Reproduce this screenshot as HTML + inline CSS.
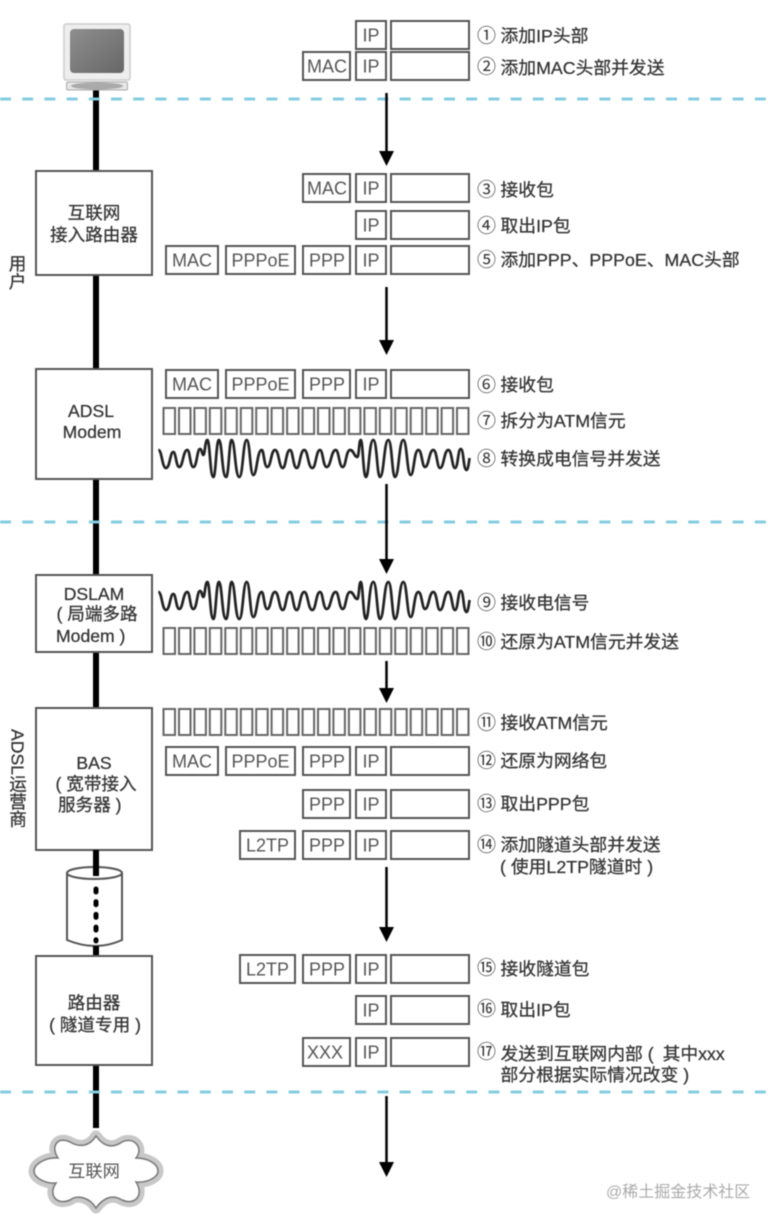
<!DOCTYPE html>
<html lang="zh"><head><meta charset="utf-8"><title>ADSL</title>
<style>
html,body{margin:0;padding:0;background:#fff;width:776px;height:1226px;overflow:hidden}
svg{display:block;filter:blur(.5px)}
text{font-family:"Liberation Sans","Noto Sans CJK SC",sans-serif;fill:#333}
.b{fill:#fff;stroke:#555;stroke-width:2}
.c{fill:#fff;stroke:#666;stroke-width:2}
.h{font-size:18px;text-anchor:middle;fill:#555}
.n{font-size:17.6px;text-anchor:middle;fill:#333;stroke:#333;stroke-width:.25px}
.s{font-size:17.6px;fill:#333;stroke:#333;stroke-width:.25px}
.l{font-size:17.8px;fill:#333;stroke:#333;stroke-width:.25px}
.d{stroke:#84cde0;stroke-width:3;stroke-dasharray:11 11.2}
.a{stroke:#000;stroke-width:2.5;fill:none}
</style></head><body>
<svg width="776" height="1226" viewBox="0 0 776 1226" xmlns="http://www.w3.org/2000/svg">
<defs>
<g id="ip"><rect class="b" x="356" y="0" width="30" height="28"/><text class="h" x="371" y="20.500">IP</text><rect class="b" x="391" y="0" width="78" height="28"/></g>
<g id="mac"><rect class="b" x="303" y="0" width="47" height="28"/><text class="h" x="327" y="20.500">MAC</text></g>
<g id="ppp"><rect class="b" x="303" y="0" width="47" height="28"/><text class="h" x="327" y="20.500">PPP</text></g>
<g id="full"><rect class="b" x="166" y="0" width="52" height="28"/><text class="h" x="192" y="20.500">MAC</text><rect class="b" x="226" y="0" width="69" height="28"/><text class="h" x="260.500" y="20.500">PPPoE</text></g>
<g id="l2"><rect class="b" x="240" y="0" width="55" height="28"/><text class="h" x="267.500" y="20.500">L2TP</text></g>
<g id="cells">
<rect class="c" x="163.5" y="0" width="11.5" height="26"/><rect class="c" x="179" y="0" width="11.5" height="26"/><rect class="c" x="194.4" y="0" width="11.5" height="26"/><rect class="c" x="209.8" y="0" width="11.5" height="26"/><rect class="c" x="225.3" y="0" width="11.5" height="26"/><rect class="c" x="240.8" y="0" width="11.5" height="26"/><rect class="c" x="256.2" y="0" width="11.5" height="26"/><rect class="c" x="271.6" y="0" width="11.5" height="26"/><rect class="c" x="287.1" y="0" width="11.5" height="26"/><rect class="c" x="302.6" y="0" width="11.5" height="26"/><rect class="c" x="318" y="0" width="11.5" height="26"/><rect class="c" x="333.4" y="0" width="11.5" height="26"/><rect class="c" x="348.9" y="0" width="11.5" height="26"/><rect class="c" x="364.4" y="0" width="11.5" height="26"/><rect class="c" x="379.8" y="0" width="11.5" height="26"/><rect class="c" x="395.2" y="0" width="11.5" height="26"/><rect class="c" x="410.7" y="0" width="11.5" height="26"/><rect class="c" x="426.2" y="0" width="11.5" height="26"/><rect class="c" x="441.6" y="0" width="11.5" height="26"/><rect class="c" x="457" y="0" width="11.5" height="26"/>
</g>
<path id="wave" fill="none" stroke="#222" stroke-width="2.7" d="M158.3 450C162 450 162 468 166 468C170 468 170 452 173.3 452C176 452 176 467 179.3 467C183 467 183 450 187.3 450C190 450 190 467 193.3 467C197 467 197 449 200 449C202 449 202 455 203.3 455C205 455 205 440 207.3 440C210 440 210 477 213.3 477C216 477 216 440 219 440C222 440 222 477 226 477C229 477 229 440 231.7 440C235 440 235 477 239.3 477C243 477 243 440 246.7 440C250 440 250 475 253.3 475C257 475 257 450 261.7 450C264 450 264 467 267.3 467C271 467 271 450 275 450C279 450 279 468 282.7 468C286 468 286 450 290 450C293 450 293 468 296.7 468C300 468 300 450 304.3 450C308 450 308 468 312.3 468C316 468 316 450 320 450C323 450 323 467 326.7 467C331 467 331 450 335.7 450C339 450 339 467 342.7 467C346 467 346 450 350 450C354 450 354 457 357.3 457C359 457 359 440 360.7 440C363 440 363 477 366 477C369 477 369 440 373.3 440C377 440 377 477 380 477C384 477 384 440 388.3 440C392 440 392 477 395 477C399 477 399 440 403.3 440C407 440 407 475 410.7 475C414 475 414 450 418.3 450C422 450 422 467 425 467C429 467 429 450 433.3 450C437 450 437 468 440 468C444 468 444 450 448.3 450C452 450 452 468 455 468C458 468 458 449 460.7 449C464 449 463 470 466.7 470C468 470 469 462 469.5 458"/>
<path id="ah" d="M-7.5 0H7.5L0 15Z" fill="#000"/>
<linearGradient id="s" x1="0" y1="0" x2="1" y2="1"><stop offset="0" stop-color="#8e8e8e"/><stop offset=".6" stop-color="#777"/><stop offset="1" stop-color="#666"/></linearGradient>
</defs>

<!-- backbone -->
<rect x="93" y="88" width="6" height="1040" fill="#000"/>

<!-- dashed boundaries -->
<line class="d" x1="0" y1="99" x2="776" y2="99"/>
<line class="d" x1="0" y1="522" x2="776" y2="522"/>
<line class="d" x1="0" y1="1092" x2="776" y2="1092"/>

<!-- monitor -->
<rect x="64" y="24" width="66" height="56" rx="2" fill="#eee" stroke="#ccc" stroke-width="1.5"/>
<rect x="70" y="29" width="54" height="44" rx="4" fill="url(#s)"/>
<rect x="66.5" y="82" width="61" height="8" rx="1.5" fill="#e6e6e6" stroke="#aaa"/>
<ellipse cx="97" cy="86" rx="26" ry="3.5" fill="#aaa"/>

<!-- left nodes -->
<rect class="b" x="36" y="171" width="116" height="104"/>
<text class="n" x="94" y="219">互联网</text><text class="n" x="94" y="241">接入路由器</text>
<rect class="b" x="36" y="369" width="116" height="110"/>
<text class="n" x="91" y="417">ADSL</text><text class="n" x="92" y="438">Modem</text>
<rect class="b" x="36" y="575" width="116" height="77"/>
<text class="n" x="94" y="600">DSLAM</text><text class="s" x="56.500" y="620">( 局端多路</text><text class="s" x="56" y="642">Modem )</text>
<rect class="b" x="36" y="708" width="116" height="142"/>
<text class="n" x="94" y="769">BAS</text><text class="s" x="55.500" y="790">( 宽带接入</text><text class="s" x="58" y="811">服务器 )</text>

<!-- cylinder -->
<path d="M67 873V940Q96 952 122 940V873" fill="#fff" stroke="#555" stroke-width="2"/>
<ellipse cx="94.500" cy="873" rx="27.500" ry="6" fill="#fff" stroke="#555" stroke-width="2"/>
<rect x="93" y="850" width="6" height="26" fill="#000"/>
<line x1="96" y1="889" x2="96" y2="941" stroke="#000" stroke-width="5" stroke-linecap="round" stroke-dasharray="3 9.700"/>
<rect x="93" y="946" width="6" height="10" fill="#000"/>

<rect class="b" x="36" y="956" width="116" height="109"/>
<text class="n" x="94" y="1009">路由器</text><text class="n" x="95" y="1031">( 隧道专用 )</text>

<!-- cloud -->
<path d="M96 1136C103 1146 112 1149 122 1142C134 1136 144 1148 136 1158C148 1158 158 1164 158 1171C158 1178 146 1183 136 1182C144 1194 136 1206 122 1200C112 1194 103 1198 96 1208C90 1198 78 1194 70 1200C56 1206 48 1194 56 1183C46 1184 34 1178 34 1171C34 1164 46 1157 58 1158C50 1146 58 1136 70 1142C80 1148 90 1146 96 1136Z" fill="#fff" stroke="#c8c8c8" stroke-width="11" stroke-linejoin="round"/>
<path d="M96 1136C103 1146 112 1149 122 1142C134 1136 144 1148 136 1158C148 1158 158 1164 158 1171C158 1178 146 1183 136 1182C144 1194 136 1206 122 1200C112 1194 103 1198 96 1208C90 1198 78 1194 70 1200C56 1206 48 1194 56 1183C46 1184 34 1178 34 1171C34 1164 46 1157 58 1158C50 1146 58 1136 70 1142C80 1148 90 1146 96 1136Z" fill="#fff" stroke="#777" stroke-width="1.500"/>
<text x="94" y="1177" style="font-size:17.300px;text-anchor:middle;fill:#555">互联网</text>

<!-- side labels -->
<text class="n" x="17.500" y="270">用</text>
<text class="n" x="17.500" y="288">户</text>
<text class="s" x="17.500" y="729" style="writing-mode:vertical-rl;text-orientation:mixed">ADSL运营商</text>

<!-- arrows -->
<line class="a" x1="386.500" y1="93" x2="386.500" y2="152"/><use href="#ah" x="386.500" y="151"/>
<line class="a" x1="386.500" y1="287" x2="386.500" y2="341"/><use href="#ah" x="386.500" y="340"/>
<line class="a" x1="386.500" y1="484" x2="386.500" y2="560"/><use href="#ah" x="386.500" y="559"/>
<line class="a" x1="386.500" y1="661" x2="386.500" y2="689"/><use href="#ah" x="386.500" y="688"/>
<line class="a" x1="386.500" y1="867" x2="386.500" y2="928"/><use href="#ah" x="386.500" y="927"/>
<line class="a" x1="386.500" y1="1096" x2="386.500" y2="1163"/><use href="#ah" x="386.500" y="1162"/>

<!-- packet rows -->
<use href="#ip" y="21"/>
<use href="#ip" y="52"/><use href="#mac" y="52"/>
<use href="#ip" y="174"/><use href="#mac" y="174"/>
<use href="#ip" y="211"/>
<use href="#ip" y="246"/><use href="#ppp" y="246"/><use href="#full" y="246"/>
<use href="#ip" y="370"/><use href="#ppp" y="370"/><use href="#full" y="370"/>
<use href="#cells" y="408"/>
<use href="#wave"/>
<use href="#wave" y="142"/>
<use href="#cells" y="628"/>
<use href="#cells" y="709"/>
<use href="#ip" y="747"/><use href="#ppp" y="747"/><use href="#full" y="747"/>
<use href="#ip" y="790"/><use href="#ppp" y="790"/>
<use href="#ip" y="831"/><use href="#ppp" y="831"/><use href="#l2" y="831"/>
<use href="#ip" y="955"/><use href="#ppp" y="955"/><use href="#l2" y="955"/>
<use href="#ip" y="996"/>
<use href="#ip" y="1038"/><rect class="b" x="303" y="1038" width="47" height="28"/><text class="h" x="325" y="1058.500">XXX</text>

<!-- step numbers -->
<g style="font-size:19px;text-anchor:middle">
<text x="486.500" y="42">①</text><text x="486.500" y="73">②</text><text x="486.500" y="196">③</text><text x="486.500" y="232">④</text><text x="486.500" y="266">⑤</text><text x="486.500" y="391">⑥</text><text x="486.500" y="427">⑦</text><text x="486.500" y="465">⑧</text><text x="486.500" y="609">⑨</text><text x="486.500" y="648">⑩</text><text x="486.500" y="729">⑪</text><text x="486.500" y="767">⑫</text><text x="486.500" y="810">⑬</text><text x="486.500" y="851">⑭</text><text x="486.500" y="974">⑮</text><text x="486.500" y="1015">⑯</text><text x="486.500" y="1058">⑰</text>
</g>

<!-- step labels -->
<text class="l" x="500.500" y="42">添加IP头部</text>
<text class="l" x="500.500" y="74">添加MAC头部并发送</text>
<text class="l" x="500.500" y="196">接收包</text>
<text class="l" x="500.500" y="232">取出IP包</text>
<text class="l" x="500.500" y="266">添加PPP、PPPoE、MAC头部</text>
<text class="l" x="500.500" y="391">接收包</text>
<text class="l" x="500.500" y="427">拆分为ATM信元</text>
<text class="l" x="500.500" y="465">转换成电信号并发送</text>
<text class="l" x="500.500" y="609">接收电信号</text>
<text class="l" x="500.500" y="648">还原为ATM信元并发送</text>
<text class="l" x="500.500" y="729">接收ATM信元</text>
<text class="l" x="500.500" y="767">还原为网络包</text>
<text class="l" x="500.500" y="810">取出PPP包</text>
<text class="l" x="500.500" y="851">添加隧道头部并发送</text>
<text class="l" x="500" y="873">( 使用L2TP隧道时 )</text>
<text class="l" x="500.500" y="975">接收隧道包</text>
<text class="l" x="500.500" y="1016">取出IP包</text>
<text class="l" x="500.500" y="1060">发送到互联网内部 ( <tspan dx="4">其中xxx</tspan></text>
<text class="l" x="500.500" y="1081">部分根据实际情况改变 )</text>

<text x="606" y="1197" style="font-size:16px;fill:#aaa">@稀土掘金技术社区</text>
</svg>
</body></html>
